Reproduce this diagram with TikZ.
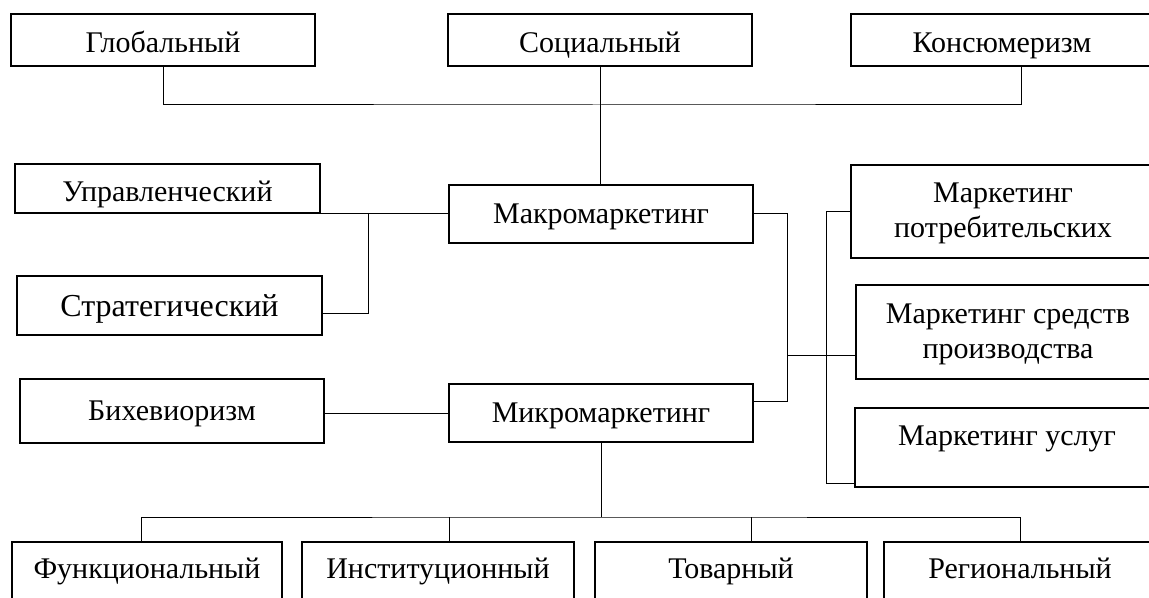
\documentclass[tikz,border=0pt]{standalone}
\usepackage{fontspec}
\setmainfont{Liberation Serif}

\tikzset{
  box/.style={draw, line width=1pt, inner sep=0pt, align=center,
    font=\fontsize{15}{17.5}\selectfont, text height=11pt, text depth=0pt},
  link/.style={line width=0.5pt},
}

\begin{document}
\begin{tikzpicture}[x=0.5pt, y=-0.5pt]
  \useasboundingbox (0,0) rectangle (1149,598);
  \clip (0,0) rectangle (1149,598);

  % upper row
  \node[box, minimum width=152pt, minimum height=26pt, text height=13pt] (glob) at (163,40) {Глобальный};
  \node[box, minimum width=152pt, minimum height=26pt, text height=13pt] (soc) at (600,40) {Социальный};
  \node[box, minimum width=151pt, minimum height=26pt, text height=13pt] (kons) at (1002,40) {Консюмеризм};

  % left column
  \node[box, minimum width=152.5pt, minimum height=24.5pt, text height=13.5pt] (upr) at (167.5,188.5) {Управленческий};
  \node[box, minimum width=152.5pt, minimum height=29.5pt, text height=10.5pt,
        font=\fontsize{16}{18.5}\selectfont] (strat) at (169.5,305.5) {Стратегический};
  \node[box, minimum width=152pt, minimum height=32pt, text height=9pt] (bihev) at (172,411) {Бихевиоризм};

  % centre
  \node[box, minimum width=152pt, minimum height=29pt, text height=10pt] (makro) at (601,214) {Макромаркетинг};
  \node[box, minimum width=152pt, minimum height=29pt, text height=9pt] (micro) at (601,413) {Микромаркетинг};

  % right column
  \node[box, minimum width=152pt, minimum height=46.5pt, text height=26.5pt] (potr) at (1003,211.5) {Маркетинг\\потребительских};
  \node[box, minimum width=152pt, minimum height=47pt, text height=26pt] (sredst) at (1008,332) {Маркетинг средств\\производства};
  \node[box, minimum width=152pt, minimum height=39.5pt, text depth=13.5pt] (uslug) at (1007,447.5) {Маркетинг услуг};

  % lower row
  \node[box, minimum width=135pt, minimum height=35pt, text depth=10pt] (func) at (147,577) {Функциональный};
  \node[box, minimum width=136pt, minimum height=35pt, text depth=10pt] (inst) at (438,577) {Институционный};
  \node[box, minimum width=136pt, minimum height=35pt, text depth=10pt] (tov) at (731,577) {Товарный};
  \node[box, minimum width=136pt, minimum height=35pt, text depth=10pt] (reg) at (1020,577) {Региональный};

  % bus lines
  \coordinate (topbus) at (597,105);
  \coordinate (lbr) at (368,213);
  \coordinate (rbr) at (787,355);
  \coordinate (rbr2) at (826,355);
  \coordinate (lowbus) at (598,517);

  \draw[link] (glob.south) |- (topbus) -| ([xshift=9.5pt]kons.south);
  \draw[link] (soc.south) -- (soc.south |- makro.north);

  \draw[link] (makro.west) -- (upr.east |- makro.west);
  \draw[link] (lbr) |- ([yshift=-3.75pt]strat.east);
  \draw[link] (micro.west) -- (bihev.east |- micro.west);

  \draw[link] (makro.east) -| (rbr) |- ([yshift=6pt]micro.east);
  \draw[link] (rbr) -- (sredst.west |- rbr);
  \draw[link] (potr.west) -| (rbr2) |- ([yshift=-17.75pt]uslug.west);

  \draw[link] (micro.south) -- (micro.south |- lowbus);
  \draw[link] ([xshift=-3pt]func.north) |- (lowbus) -| (reg.north);
  \draw[link] ([xshift=5.5pt]inst.north) -- ([xshift=5.5pt]inst.north |- lowbus);
  \draw[link] ([xshift=10pt]tov.north) -- ([xshift=10pt]tov.north |- lowbus);
\end{tikzpicture}
\end{document}
